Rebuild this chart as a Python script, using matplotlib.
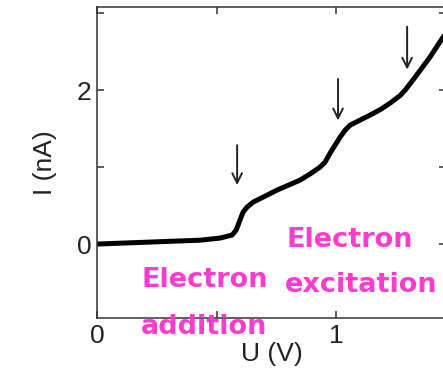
import matplotlib
matplotlib.use("Agg")
import matplotlib.pyplot as plt

# Tunneling I-V trace
voltage_v = [0.0, 0.222, 0.431, 0.515, 0.565, 0.582, 0.598, 0.611, 0.628, 0.653,
             0.695, 0.753, 0.849, 0.891, 0.933, 0.954, 0.975, 0.996, 1.017, 1.038,
             1.059, 1.100, 1.142, 1.184, 1.226, 1.268, 1.289, 1.331, 1.393, 1.448, 1.47]
current_na = [0.0, 0.026, 0.05, 0.078, 0.117, 0.182, 0.312, 0.416, 0.481, 0.545,
              0.610, 0.701, 0.83, 0.91, 1.0, 1.065, 1.182, 1.286, 1.39, 1.48,
              1.545, 1.61, 1.675, 1.745, 1.83, 1.93, 2.0, 2.17, 2.43, 2.69, 2.78]

# Arrow markers: (voltage, start current, tip current)
arrow_u = [0.586, 1.008, 1.297]
arrow_top = [1.32, 2.18, 2.86]
arrow_tip = [0.73, 1.57, 2.23]

x_ticks = [0, 0.5, 1]
x_tick_labels = ["0", "", "1"]
y_ticks = [0, 1, 2, 3]
y_tick_labels = ["0", "", "2", ""]

fig = plt.figure(figsize=(4.43, 3.73), dpi=100)
ax = fig.add_axes([0.219, 0.1475, 0.788, 0.834])

ax.plot(voltage_v, current_na, color="black", lw=3.6, solid_capstyle="round",
        solid_joinstyle="round")

for u, top, tip in zip(arrow_u, arrow_top, arrow_tip):
    ax.annotate("", xy=(u, tip), xytext=(u, top),
                arrowprops=dict(arrowstyle="->,head_length=0.7,head_width=0.35",
                                color="#222222", lw=1.4))

ax.set_xlim(0, 1.46)
ax.set_ylim(-0.96, 3.08)
ax.set_xticks(x_ticks)
ax.set_xticklabels(x_tick_labels)
ax.set_yticks(y_ticks)
ax.set_yticklabels(y_tick_labels)
ax.tick_params(direction="in", length=5, width=1.1, colors="#333333",
               top=True, right=True, labelsize=19, pad=4, labelcolor="#222222")
for lab in ax.get_xticklabels() + ax.get_yticklabels():
    lab.set_family("Liberation Sans")
for sp in ax.spines.values():
    sp.set_color("#333333")
    sp.set_linewidth(1.1)

ax.set_xlabel("U (V)", fontsize=19, family="Liberation Sans", color="#222222", labelpad=-4)
ax.set_ylabel("I (nA)", fontsize=19, family="Liberation Sans", color="#222222", labelpad=14)

pink = "#ff3dcc"
label_kw = dict(color=pink, fontsize=19.5, fontweight="bold", ha="center",
                va="center", family="DejaVu Sans")
fig.text(205 / 443, 1 - 280 / 373, "Electron", **label_kw)
fig.text(204 / 443, 1 - 327 / 373, "addition", **label_kw)
fig.text(350 / 443, 1 - 240 / 373, "Electron", **label_kw)
fig.text(361 / 443, 1 - 285 / 373, "excitation", **label_kw)

fig.savefig("out.png", dpi=100)
